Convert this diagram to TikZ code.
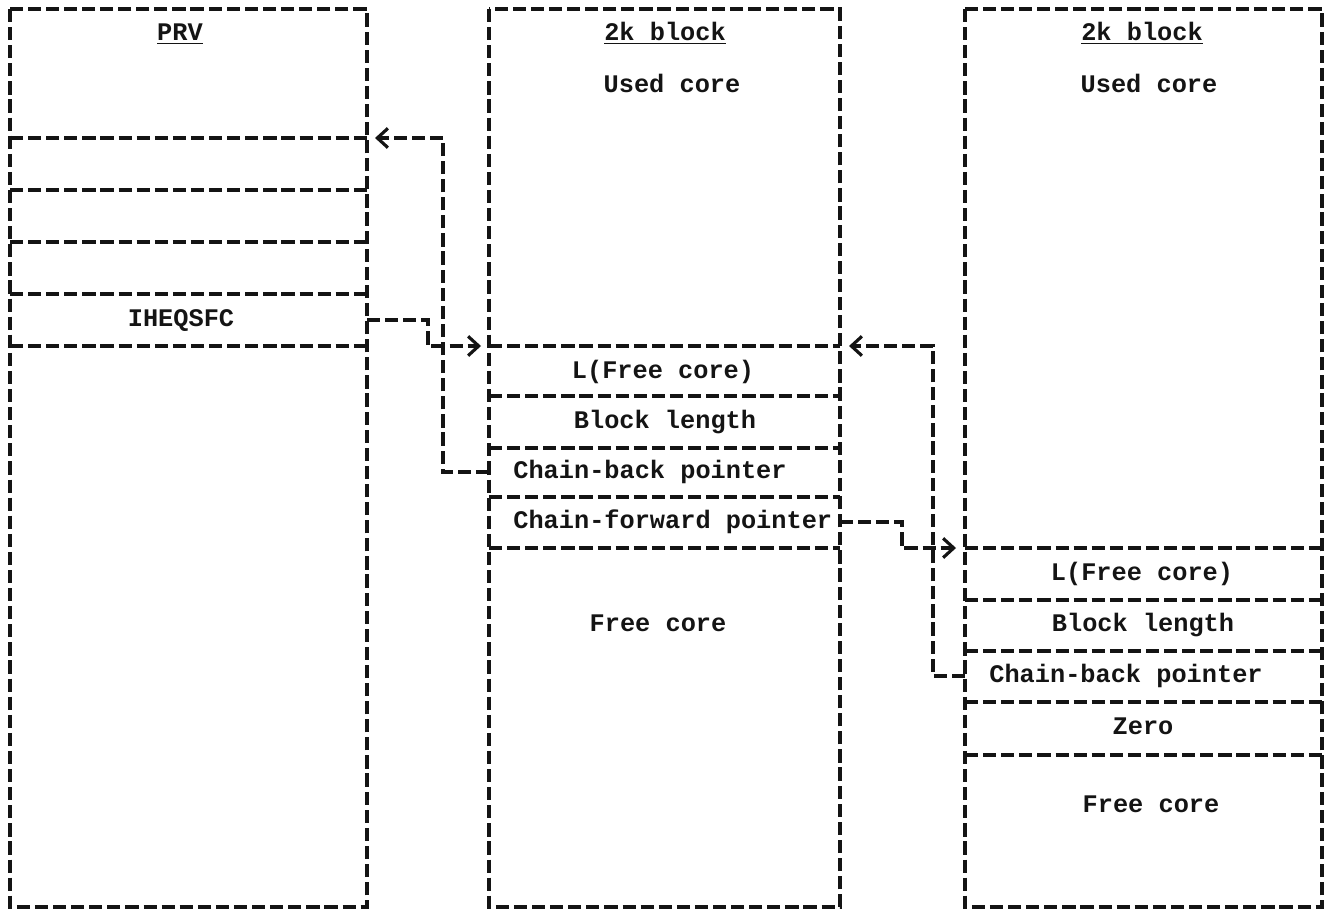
\documentclass[tikz,border=0pt]{standalone}
\usepackage{fontspec}
\setmonofont{Liberation Mono}
\usetikzlibrary{arrows.meta,positioning,calc}
\definecolor{inkblack}{RGB}{20,20,20}

\tikzset{
    dline/.style={inkblack, line width=1.9pt, dash pattern=on 7.5pt off 2.8pt},
    ptr/.style={dline, -{Straight Barb[length=6pt,width=11pt,line width=1.8pt]}},
    lbl/.style={font=\ttfamily\bfseries\fontsize{14.4}{17}\selectfont, inner sep=0pt, anchor=base, text=inkblack},
}

\begin{document}
\begin{tikzpicture}[x=0.02cm,y=-0.02cm]
    \useasboundingbox (0,0) rectangle (1324,912);

    % PRV
    \draw[dline] (10,9) rectangle (367,907);
    \node[lbl] (prv) at (180,41) {\underline{PRV}};
    \foreach \y in {138,190,242,294,346} {
        \draw[dline] (10,\y) -- (367,\y);
    }
    \node[lbl] (sfc) at (181,326) {IHEQSFC};

    % First 2k block
    \draw[dline] (489,9) rectangle (840,907);
    \node[lbl] (mtitle) at (665,41) {\underline{2k block}};
    \node[lbl] (mused) at (672,93) {Used core};
    \foreach \y in {346,396,448,497,548} {
        \draw[dline] (489,\y) -- (840,\y);
    }
    \node[lbl] (mlen) at (663,378) {L(Free core)};
    \node[lbl] (mblk) at (665,428) {Block length};
    \node[lbl, anchor=base west] (mback) at (513,478) {Chain-back pointer};
    \node[lbl, anchor=base west] (mfwd) at (513,528) {Chain-forward pointer};
    \node[lbl] (mfree) at (658,631) {Free core};

    % Second 2k block
    \draw[dline] (965,9) rectangle (1322,907);
    \node[lbl] (rtitle) at (1142,41) {\underline{2k block}};
    \node[lbl] (rused) at (1149,93) {Used core};
    \foreach \y in {548,600,651,702,755} {
        \draw[dline] (965,\y) -- (1322,\y);
    }
    \node[lbl] (rlen) at (1142,580) {L(Free core)};
    \node[lbl] (rblk) at (1143,631) {Block length};
    \node[lbl, anchor=base west] (rback) at (989,682) {Chain-back pointer};
    \node[lbl] (rzero) at (1143,734) {Zero};
    \node[lbl] (rfree) at (1151,812) {Free core};

    % Pointers
    \coordinate (prvslot) at (375,138);
    \coordinate (prvsfc) at (367,320);
    \coordinate (mhead) at (481,346);
    \coordinate (mbackin) at (489,472);
    \coordinate (mfwdout) at (840,522);
    \coordinate (mheadr) at (849,346);
    \coordinate (rhead) at (956,548);
    \coordinate (rbackin) at (965,676);

    \draw[ptr] (mbackin) -- ++(-46,0) |- (prvslot);
    \draw[ptr] (prvsfc) -- ++(61,0) |- (mhead);
    \draw[ptr] (mfwdout) -- ++(62,0) |- (rhead);
    \draw[ptr] (rbackin) -- ++(-32,0) |- (mheadr);
\end{tikzpicture}
\end{document}
